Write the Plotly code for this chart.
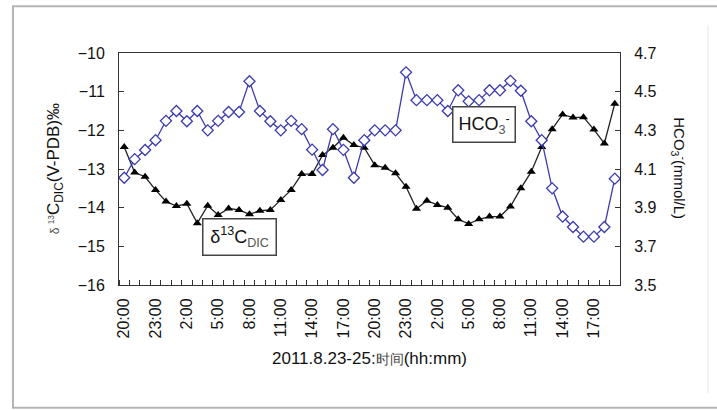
import plotly.graph_objects as go

# ---- data ----
time_labels = ["20:00", "21:00", "22:00", "23:00", "0:00", "1:00", "2:00", "3:00", "4:00", "5:00",
               "6:00", "7:00", "8:00", "9:00", "10:00", "11:00", "12:00", "13:00", "14:00", "15:00",
               "16:00", "17:00", "18:00", "19:00", "20:00", "21:00", "22:00", "23:00", "0:00", "1:00",
               "2:00", "3:00", "4:00", "5:00", "6:00", "7:00", "8:00", "9:00", "10:00", "11:00",
               "12:00", "13:00", "14:00", "15:00", "16:00", "17:00", "18:00", "19:00"]

d13c_dic = [-12.43, -13.09, -13.20, -13.54, -13.84, -13.96, -13.90, -14.40, -13.95, -14.19,
            -14.02, -14.06, -14.17, -14.08, -14.06, -13.80, -13.54, -13.13, -13.13, -12.64,
            -12.45, -12.19, -12.38, -12.45, -12.90, -12.97, -13.11, -13.46, -14.03, -13.82,
            -13.93, -14.00, -14.30, -14.42, -14.30, -14.23, -14.23, -13.97, -13.50, -13.07,
            -12.43, -11.97, -11.59, -11.67, -11.66, -11.98, -12.34, -11.31]

hco3 = [4.055, 4.151, 4.198, 4.249, 4.349, 4.400, 4.347, 4.400, 4.300, 4.349,
        4.395, 4.395, 4.554, 4.400, 4.347, 4.300, 4.349, 4.306, 4.200, 4.095,
        4.306, 4.199, 4.055, 4.249, 4.300, 4.300, 4.300, 4.600, 4.456, 4.456,
        4.456, 4.400, 4.507, 4.450, 4.456, 4.507, 4.507, 4.556, 4.505, 4.347,
        4.249, 4.000, 3.854, 3.800, 3.750, 3.750, 3.800, 4.050]

left_ticks = [-16, -15, -14, -13, -12, -11, -10]
right_ticks = [3.5, 3.7, 3.9, 4.1, 4.3, 4.5, 4.7]

x_title = "2011.8.23-25:<span style='font-size:14px;color:#444'>时间</span>(hh:mm)"
left_title = ("<span style='font-size:12px;color:#555'>δ <sup>13</sup></span>C"
              "<sub>DIC</sub>(V-PDB)‰")
right_title = "HCO<sub>3</sub><sup>-</sup>(mmol/L)"
label_c = "δ<sup>13</sup>C<sub><span style='color:#555'>DIC</span></sub>"
label_h = "HCO<sub><span style='color:#555'>3</span></sub><sup>-</sup>"

# ---- figure ----
idx = list(range(len(time_labels)))
FONT = "Liberation Sans, Arial, sans-serif"

fig = go.Figure()
fig.add_trace(go.Scatter(
    x=idx, y=d13c_dic, mode="lines+markers", yaxis="y",
    line=dict(color="#222222", width=1.3),
    marker=dict(symbol="triangle-up", size=8, color="#000000"),
    showlegend=False))
fig.add_trace(go.Scatter(
    x=idx, y=hco3, mode="lines+markers", yaxis="y2",
    line=dict(color="#3b3bb0", width=1.3),
    marker=dict(symbol="diamond", size=8.5, color="#ffffff",
                line=dict(color="#3b3bb0", width=1.3)),
    showlegend=False))

fig.update_layout(
    width=717, height=410,
    margin=dict(l=119, r=97, t=53, b=125),
    paper_bgcolor="white", plot_bgcolor="white",
    font=dict(family=FONT, size=16, color="#111"),
    xaxis=dict(
        range=[-0.5, len(idx) - 0.5],
        tickmode="array", tickvals=idx[::3], ticktext=time_labels[::3],
        tickangle=-90, ticks="", showgrid=False, zeroline=False,
        showline=True, linecolor="#333", linewidth=1, mirror=True,
        tickfont=dict(size=16, family=FONT),
        minor=dict(tickmode="array", tickvals=[i - 0.5 for i in range(len(idx) + 1)],
                   ticks="inside", ticklen=5, tickcolor="#333", showgrid=False),
        ticklabelstandoff=6,
    ),
    yaxis=dict(
        range=[left_ticks[0], left_ticks[-1]], tickvals=left_ticks,
        ticks="inside", ticklen=5, tickcolor="#333",
        showgrid=False, zeroline=False,
        showline=True, linecolor="#333", linewidth=1,
        tickfont=dict(size=16, family=FONT), ticklabelstandoff=10,
    ),
    yaxis2=dict(
        range=[right_ticks[0], right_ticks[-1]], tickvals=right_ticks,
        tickformat=".1f",
        overlaying="y", side="right",
        ticks="inside", ticklen=5, tickcolor="#333",
        showgrid=False, zeroline=False,
        showline=True, linecolor="#333", linewidth=1,
        tickfont=dict(size=16, family=FONT), ticklabelstandoff=10,
    ),
    annotations=[
        dict(text=x_title, xref="paper", yref="paper", x=0.5, y=-0.315,
             xanchor="center", yanchor="middle", showarrow=False,
             font=dict(size=17, family=FONT, color="#111")),
        dict(text=left_title, xref="paper", yref="paper", x=-0.127, y=0.5,
             xanchor="center", yanchor="middle", textangle=-90, showarrow=False,
             font=dict(size=17, family=FONT, color="#111")),
        dict(text=right_title, xref="paper", yref="paper", x=1.119, y=0.505,
             xanchor="center", yanchor="middle", textangle=90, showarrow=False,
             font=dict(size=15, family=FONT, color="#111")),
        dict(text=label_c, xref="x", yref="y", x=11.0, y=-14.77,
             xanchor="center", yanchor="middle", showarrow=False,
             width=70, height=33, bgcolor="white",
             bordercolor="#444", borderwidth=1.5,
             font=dict(size=18, family=FONT, color="#111")),
        dict(text=label_h, xref="x", yref="y", x=34.45, y=-11.85,
             xanchor="center", yanchor="middle", showarrow=False,
             width=59, height=32, bgcolor="white",
             bordercolor="#444", borderwidth=1.5,
             font=dict(size=18, family=FONT, color="#111")),
    ],
    shapes=[
        dict(type="rect", xref="paper", yref="paper",
             x0=-0.2116, x1=1.21, y0=-0.5295, y1=1.201,
             line=dict(color="#b5b5b5", width=2), layer="below"),
        dict(type="line", xref="paper", yref="paper",
             x0=1.1756, x1=1.1756, y0=-0.465, y1=1.119,
             line=dict(color="#efefef", width=1.5), layer="below"),
    ],
)

fig.write_html("out.html")
